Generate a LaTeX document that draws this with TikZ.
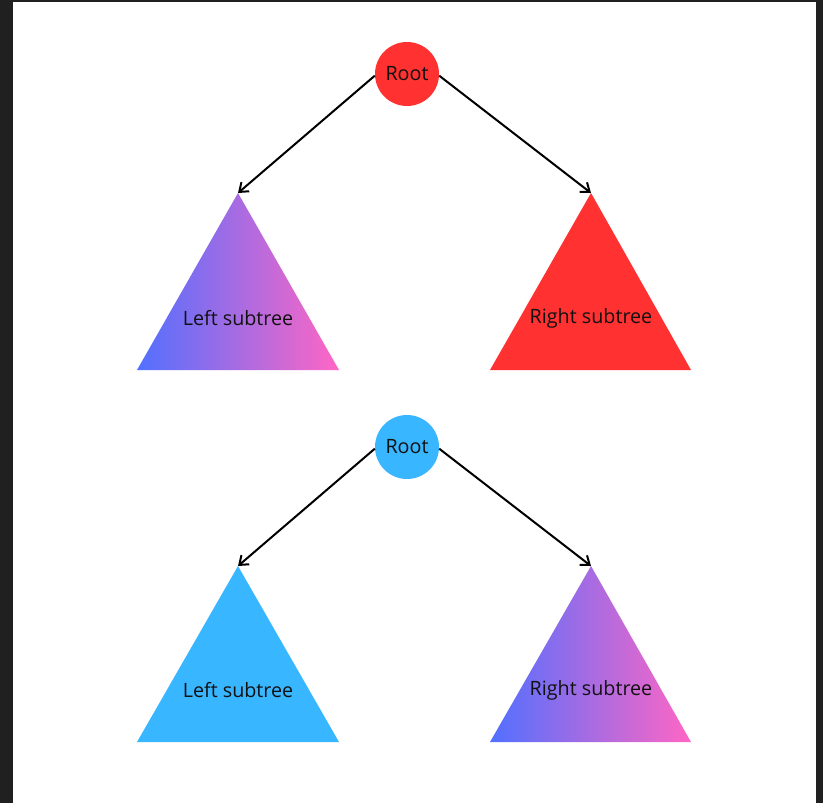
\documentclass[tikz,border=0pt]{standalone}
\usepackage{fontspec}
\setmainfont{Open Sans}
\usetikzlibrary{arrows.meta}
\definecolor{rootred}{HTML}{FF3131}
\definecolor{rootblue}{HTML}{38B6FF}
\definecolor{gradA}{HTML}{5170FF}
\definecolor{gradB}{HTML}{FF66C4}
\definecolor{frame}{HTML}{202020}
\definecolor{ink}{HTML}{111111}
\tikzset{
  rootnode/.style={circle, minimum size=48pt, inner sep=0pt, font=\fontsize{14.8}{17}\selectfont, text=ink},
  lbl/.style={font=\fontsize{14.8}{17}\selectfont, text=ink},
  conn/.style={line width=1.5pt, -{Straight Barb[length=6pt,width=9pt,line width=1.5pt]}},
  grad/.style={left color=gradA, right color=gradB, middle color=gradA!50!gradB},
}
\begin{document}
\begin{tikzpicture}[x=0.75pt,y=-0.75pt]
\useasboundingbox (0,0) rectangle (823,803);
\fill[frame] (0,0) rectangle (823,803);
\fill[white] (13,2) rectangle (816,803);

% top tree
\shade[grad] (238,193) -- (339,370) -- (137,370) -- cycle;
\fill[rootred] (591,193) -- (691,370) -- (490,370) -- cycle;
\coordinate (lt1) at (238,193);
\coordinate (rt1) at (591,193);
\node[lbl] (lt1l) at (238,318) {Left subtree};
\node[lbl] (rt1l) at (591,318) {Right subtree};
\node[rootnode, fill=rootred] (r1) at (407,74) {Root};
\draw[conn] (r1.183) -- (lt1);
\draw[conn] (r1.-3) -- (rt1);

% bottom tree
\fill[rootblue] (238,566) -- (339,742) -- (137,742) -- cycle;
\shade[grad] (591,566) -- (691,742) -- (490,742) -- cycle;
\coordinate (lt2) at (238,566);
\coordinate (rt2) at (591,566);
\node[lbl] (lt2l) at (238,690) {Left subtree};
\node[lbl] (rt2l) at (591,690) {Right subtree};
\node[rootnode, fill=rootblue] (r2) at (407,447) {Root};
\draw[conn] (r2.183) -- (lt2);
\draw[conn] (r2.-3) -- (rt2);
\end{tikzpicture}
\end{document}
